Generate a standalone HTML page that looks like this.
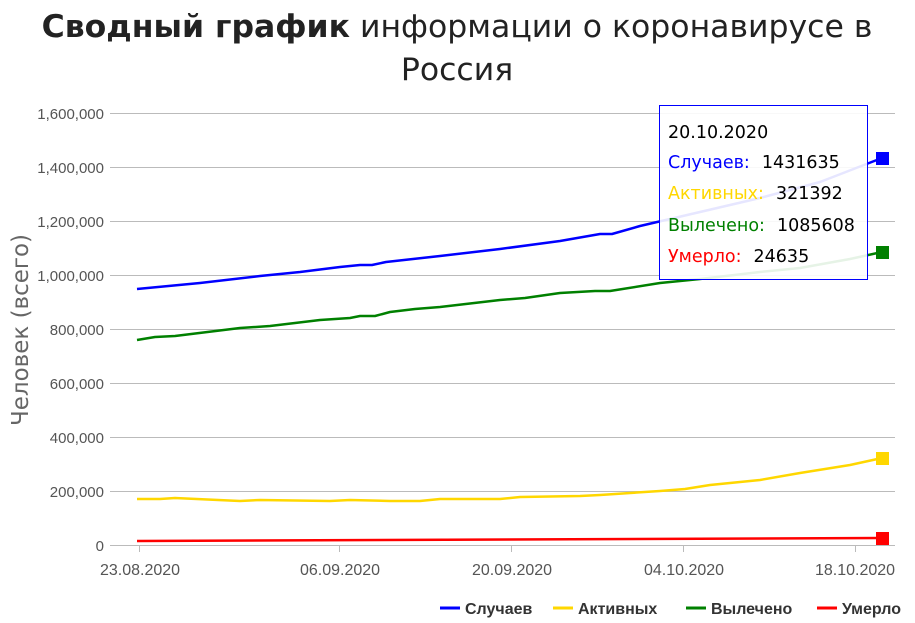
<!DOCTYPE html>
<html><head><meta charset="utf-8"><style>
body{margin:0;background:#fff;}
svg{display:block;font-family:"DejaVu Sans","Liberation Sans",sans-serif;}
</style></head><body>
<svg width="915" height="623" viewBox="0 0 915 623">
<text x="457" y="37" text-anchor="middle" font-size="31.5" fill="#222"><tspan font-weight="bold">Сводный график</tspan> информации о коронавирусе в</text>
<text x="457" y="80" text-anchor="middle" font-size="31.5" fill="#222">Россия</text>
<g stroke="#bbb" stroke-width="1">
<line x1="110" x2="895" y1="113.5" y2="113.5"/>
<line x1="110" x2="895" y1="167.5" y2="167.5"/>
<line x1="110" x2="895" y1="221.5" y2="221.5"/>
<line x1="110" x2="895" y1="275.5" y2="275.5"/>
<line x1="110" x2="895" y1="329.5" y2="329.5"/>
<line x1="110" x2="895" y1="383.5" y2="383.5"/>
<line x1="110" x2="895" y1="437.5" y2="437.5"/>
<line x1="110" x2="895" y1="491.5" y2="491.5"/>
<line x1="110" x2="895" y1="545.5" y2="545.5"/>
<line x1="139.5" x2="139.5" y1="545" y2="552"/>
<line x1="339.5" x2="339.5" y1="545" y2="552"/>
<line x1="511.5" x2="511.5" y1="545" y2="552"/>
<line x1="683.5" x2="683.5" y1="545" y2="552"/>
<line x1="855.5" x2="855.5" y1="545" y2="552"/>
</g>
<g font-family="Liberation Sans,sans-serif" font-size="15" fill="#555" text-anchor="end">
<text x="104" y="119">1,600,000</text>
<text x="104" y="173">1,400,000</text>
<text x="104" y="227">1,200,000</text>
<text x="104" y="281">1,000,000</text>
<text x="104" y="335">800,000</text>
<text x="104" y="389">600,000</text>
<text x="104" y="443">400,000</text>
<text x="104" y="497">200,000</text>
<text x="104" y="551">0</text>
</g>
<g font-family="Liberation Sans,sans-serif" font-size="16" fill="#555" text-anchor="middle">
<text x="140" y="575">23.08.2020</text>
<text x="340" y="575">06.09.2020</text>
<text x="512" y="575">20.09.2020</text>
<text x="684" y="575">04.10.2020</text>
<text x="855" y="575">18.10.2020</text>
</g>
<text transform="translate(28,330) rotate(-90)" text-anchor="middle" font-size="23" fill="#666">Человек (всего)</text>
<g fill="none" stroke-width="2.5" stroke-linejoin="round">
<polyline stroke="#ff0000" points="137,541 882,538"/>
<polyline stroke="#ffd700" points="137,499 160,499 175,498 240,501 260,500 330,501 350,500 390,501 420,501 440,499 500,499 520,497 580,496 600,495 660,491 685,489 710,485 760,480 800,473 850,465 882,458"/>
<polyline stroke="#008000" points="137,340 155,337 175,336 240,328 270,326 320,320 350,318 360,316 375,316 390,312 415,309 440,307 500,300 525,298 560,293 595,291 610,291 660,283 700,279 760,272 800,268 850,259 882,252"/>
<polyline stroke="#0000ff" points="137,289 200,283 260,276 300,272 340,267 360,265 372,265 386,262 440,256 500,249 560,241 600,234 612,234 640,226 700,212 760,198 820,182 882,158"/>
</g>
<rect x="876" y="152" width="13" height="13" fill="#0000ff"/>
<rect x="876" y="246" width="13" height="13" fill="#008000"/>
<rect x="876" y="452" width="13" height="13" fill="#ffd700"/>
<rect x="876" y="532" width="13" height="13" fill="#ff0000"/>
<rect x="659.5" y="105.5" width="208" height="174" fill="rgba(255,255,255,0.9)" stroke="#0000ff" stroke-width="1"/>
<g font-size="17.5" font-family="DejaVu Sans,sans-serif">
<text x="668" y="138" fill="#000">20.10.2020</text>
<text x="668" y="168" fill="#0000ff">Случаев:<tspan fill="#000" dx="12">1431635</tspan></text>
<text x="668" y="199" fill="#ffd700">Активных:<tspan fill="#000" dx="12">321392</tspan></text>
<text x="668" y="231" fill="#008000">Вылечено:<tspan fill="#000" dx="12">1085608</tspan></text>
<text x="668" y="262" fill="#ff0000">Умерло:<tspan fill="#000" dx="12">24635</tspan></text>
</g>
<g font-family="Liberation Sans,sans-serif" font-size="16" font-weight="bold" fill="#333">
<line x1="440" x2="460" y1="608" y2="608" stroke="#0000ff" stroke-width="3"/>
<text x="465" y="614">Случаев</text>
<line x1="553" x2="573" y1="608" y2="608" stroke="#ffd700" stroke-width="3"/>
<text x="578" y="614">Активных</text>
<line x1="686" x2="706" y1="608" y2="608" stroke="#008000" stroke-width="3"/>
<text x="711" y="614">Вылечено</text>
<line x1="817" x2="837" y1="608" y2="608" stroke="#ff0000" stroke-width="3"/>
<text x="842" y="614">Умерло</text>
</g>
</svg>
</body></html>
